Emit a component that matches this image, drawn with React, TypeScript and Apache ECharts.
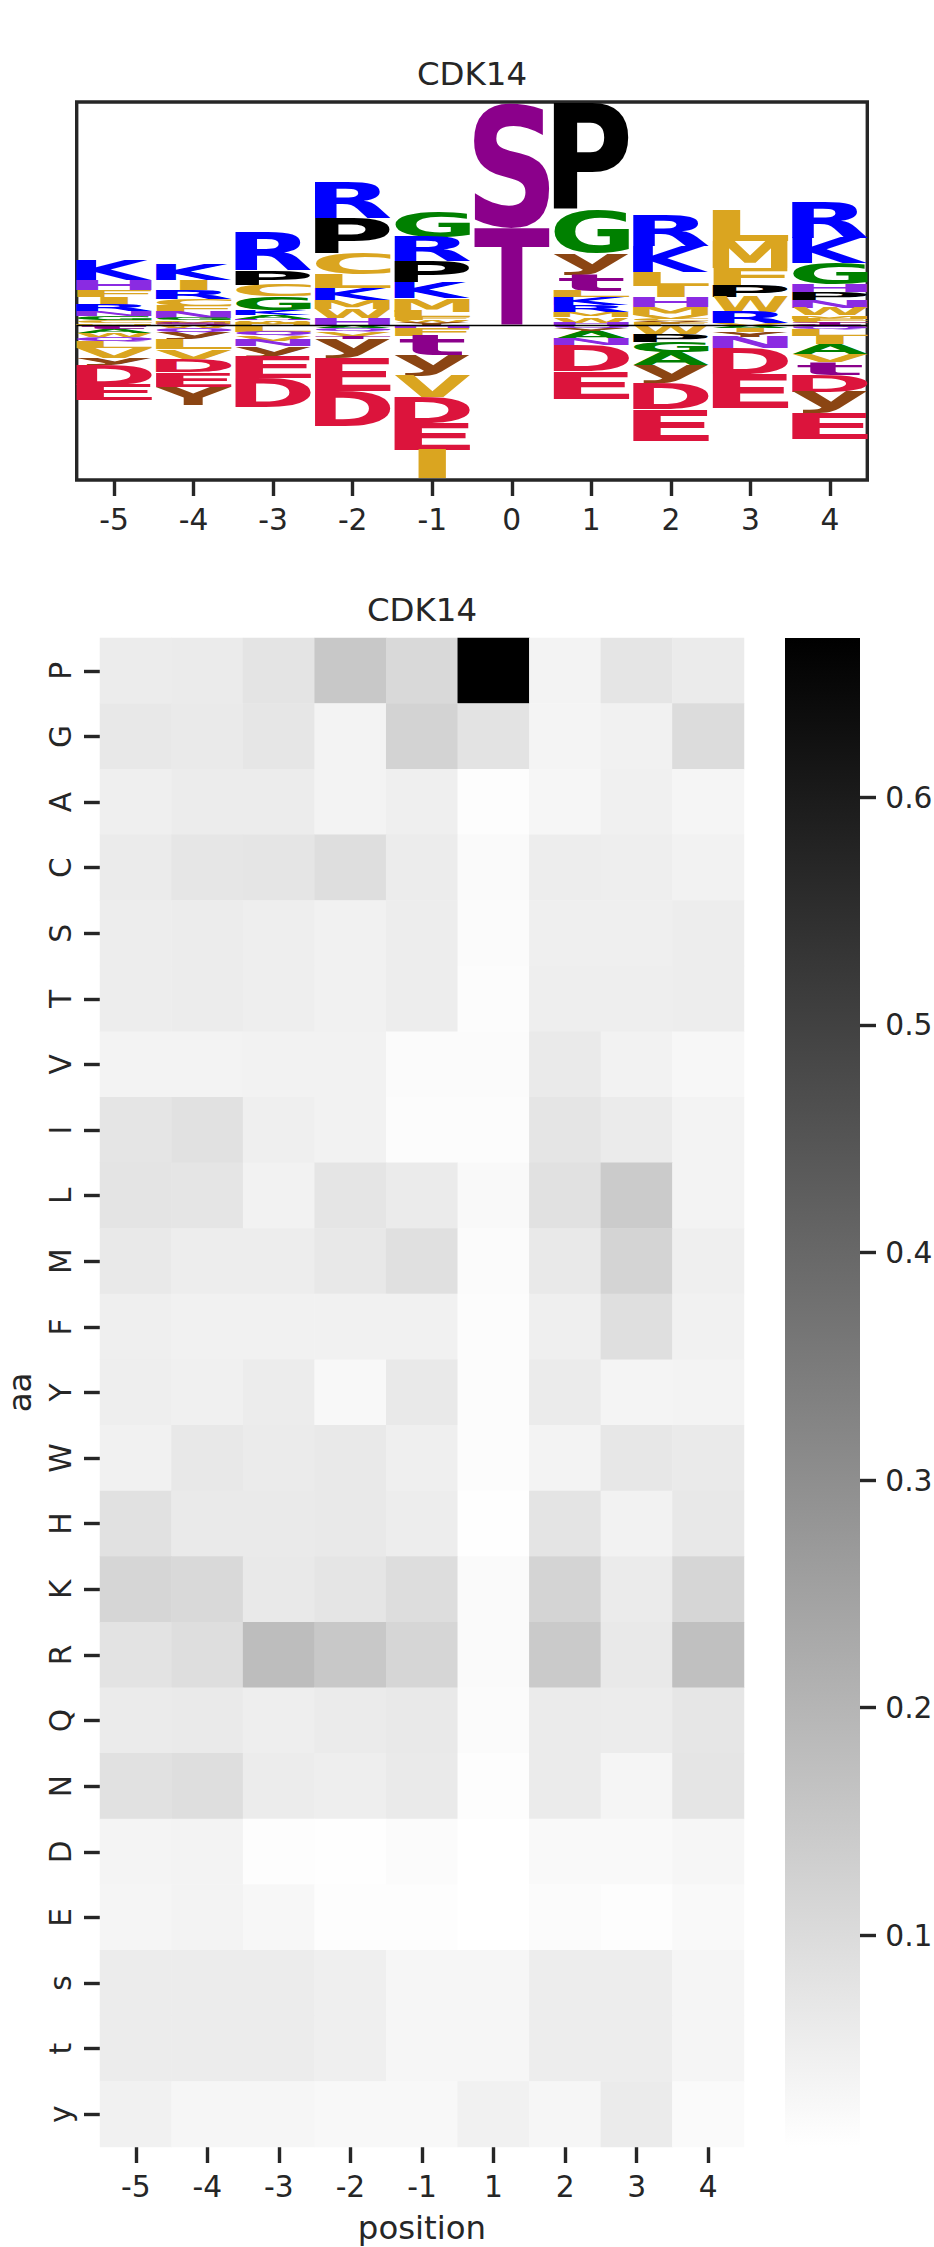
import { useEffect, useRef } from 'react'
import * as echarts from 'echarts'

const TEXT = '#262626'
const FONT = 'DejaVu Sans'
const GLYPH_FONT = 'bold 100px "DejaVu Sans"'
const TICK = 29.7
const LABEL = 32.4

// ---- sequence logo ----
const logoPositions = [-5, -4, -3, -2, -1, 0, 1, 2, 3, 4]
// letters above the zero line, top of the stack first
const logoUp: [string, number][][] = [
  [['K', 0.19], ['H', 0.1], ['F', 0.067], ['I', 0.077], ['R', 0.06], ['N', 0.057], ['G', 0.04], ['C', 0.025], ['M', 0.015], ['T', 0.01]],
  [['K', 0.15], ['I', 0.1], ['R', 0.09], ['C', 0.07], ['F', 0.063], ['N', 0.06], ['G', 0.023], ['M', 0.03], ['S', 0.02]],
  [['R', 0.373], ['P', 0.143], ['C', 0.117], ['G', 0.133], ['K', 0.05], ['A', 0.04], ['H', 0.017], ['W', 0.03], ['M', 0.02]],
  [['R', 0.365], ['P', 0.35], ['C', 0.21], ['L', 0.14], ['K', 0.12], ['M', 0.09], ['W', 0.09], ['H', 0.075]],
  [['G', 0.25], ['R', 0.24], ['P', 0.21], ['K', 0.157], ['M', 0.133], ['L', 0.057], ['F', 0.03], ['W', 0.025], ['Y', 0.028]],
  [['S', 1.24], ['T', 0.98]],
  [['P', 1.074], ['G', 0.433], ['y', 0.21], ['t', 0.157], ['L', 0.066], ['K', 0.077], ['R', 0.067], ['M', 0.055], ['W', 0.053], ['H', 0.03]],
  [['R', 0.31], ['K', 0.26], ['L', 0.14], ['I', 0.11], ['H', 0.1], ['M', 0.08], ['V', 0.04], ['C', 0.027], ['Y', 0.023], ['F', 0.02]],
  [['L', 0.307], ['M', 0.267], ['F', 0.17], ['P', 0.123], ['W', 0.15], ['R', 0.11], ['V', 0.023]],
  [['R', 0.357], ['K', 0.253], ['G', 0.213], ['H', 0.077], ['P', 0.083], ['N', 0.073], ['W', 0.077], ['M', 0.03], ['F', 0.025], ['C', 0.025], ['T', 0.02]],
]
// letters below the zero line, nearest the line first
const logoDown: [string, number][][] = [
  [['t', 0.037], ['A', 0.04], ['W', 0.04], ['Q', 0.043], ['L', 0.067], ['V', 0.1], ['y', 0.073], ['D', 0.193], ['E', 0.15]],
  [['W', 0.027], ['Q', 0.04], ['y', 0.07], ['L', 0.1], ['V', 0.093], ['D', 0.133], ['E', 0.147], ['Y', 0.183]],
  [['L', 0.06], ['Q', 0.043], ['V', 0.047], ['N', 0.06], ['y', 0.1], ['E', 0.217], ['D', 0.29]],
  [['A', 0.03], ['Q', 0.035], ['V', 0.04], ['T', 0.028], ['y', 0.193], ['E', 0.323], ['D', 0.353]],
  [['H', 0.027], ['F', 0.073], ['t', 0.193], ['y', 0.21], ['V', 0.217], ['D', 0.257], ['E', 0.267], ['I', 0.283]],
  [],
  [['Q', 0.033], ['Y', 0.033], ['A', 0.073], ['N', 0.06], ['D', 0.257], ['E', 0.277]],
  [['W', 0.083], ['P', 0.083], ['G', 0.1], ['A', 0.133], ['y', 0.177], ['D', 0.257], ['E', 0.317]],
  [['A', 0.03], ['I', 0.035], ['Y', 0.047], ['N', 0.11], ['D', 0.26], ['E', 0.343]],
  [['S', 0.02], ['Q', 0.023], ['L', 0.06], ['I', 0.08], ['A', 0.107], ['V', 0.077], ['t', 0.127], ['D', 0.167], ['y', 0.217], ['E', 0.257]],
]
const logoXTicks = [-5, -4, -3, -2, -1, 0, 1, 2, 3, 4]
const logoYMin = -1.545
const logoYMax = 2.235
const LETTER_W = 0.95

const letterColor: Record<string, string> = {
  K: '#0000ff', R: '#0000ff',
  H: '#8a2be2', N: '#8a2be2', Q: '#8a2be2',
  S: '#8b008b', T: '#8b008b', s: '#8b008b', t: '#8b008b',
  Y: '#8b4513', y: '#8b4513',
  D: '#dc143c', E: '#dc143c',
  P: '#000000',
  G: '#008000', A: '#008000',
  C: '#daa520', L: '#daa520', M: '#daa520', F: '#daa520', W: '#daa520', I: '#daa520', V: '#daa520',
}

// ---- heatmap ----
const heatCols = ['-5', '-4', '-3', '-2', '-1', '1', '2', '3', '4']
const heatRows = ['P', 'G', 'A', 'C', 'S', 'T', 'V', 'I', 'L', 'M', 'F', 'Y', 'W', 'H', 'K', 'R', 'Q', 'N', 'D', 'E', 's', 't', 'y']
const heatValues = [
  [0.056, 0.059, 0.077, 0.150, 0.106, 0.670, 0.038, 0.075, 0.059],
  [0.067, 0.062, 0.072, 0.038, 0.121, 0.080, 0.036, 0.043, 0.098],
  [0.049, 0.056, 0.056, 0.038, 0.049, 0.012, 0.030, 0.046, 0.033],
  [0.059, 0.072, 0.075, 0.093, 0.056, 0.020, 0.054, 0.051, 0.041],
  [0.054, 0.056, 0.051, 0.043, 0.054, 0.017, 0.049, 0.049, 0.054],
  [0.055, 0.056, 0.052, 0.044, 0.055, 0.016, 0.050, 0.050, 0.055],
  [0.038, 0.038, 0.041, 0.041, 0.017, 0.017, 0.062, 0.041, 0.028],
  [0.075, 0.085, 0.049, 0.041, 0.015, 0.015, 0.075, 0.059, 0.038],
  [0.077, 0.075, 0.041, 0.075, 0.059, 0.023, 0.085, 0.142, 0.038],
  [0.064, 0.054, 0.054, 0.067, 0.088, 0.017, 0.064, 0.119, 0.049],
  [0.049, 0.043, 0.043, 0.043, 0.043, 0.015, 0.049, 0.090, 0.043],
  [0.051, 0.046, 0.056, 0.025, 0.064, 0.015, 0.059, 0.036, 0.038],
  [0.043, 0.067, 0.059, 0.064, 0.049, 0.015, 0.038, 0.069, 0.062],
  [0.085, 0.062, 0.062, 0.064, 0.054, 0.010, 0.077, 0.041, 0.067],
  [0.114, 0.106, 0.064, 0.075, 0.095, 0.020, 0.119, 0.059, 0.114],
  [0.080, 0.093, 0.179, 0.150, 0.114, 0.020, 0.145, 0.064, 0.171],
  [0.059, 0.062, 0.051, 0.059, 0.064, 0.017, 0.059, 0.056, 0.072],
  [0.085, 0.093, 0.056, 0.051, 0.062, 0.012, 0.059, 0.033, 0.075],
  [0.036, 0.038, 0.012, 0.010, 0.017, 0.007, 0.023, 0.023, 0.030],
  [0.033, 0.038, 0.028, 0.012, 0.012, 0.007, 0.017, 0.012, 0.023],
  [0.056, 0.056, 0.056, 0.049, 0.030, 0.030, 0.054, 0.054, 0.033],
  [0.056, 0.056, 0.056, 0.049, 0.030, 0.030, 0.054, 0.054, 0.033],
  [0.043, 0.030, 0.030, 0.025, 0.025, 0.043, 0.030, 0.059, 0.020],
]
const cbarMin = 0.007
const cbarMax = 0.67
const cbarTicks = [0.1, 0.2, 0.3, 0.4, 0.5, 0.6]

type Glyph = { pos: number; lo: number; hi: number; letter: string }
type Metric = { left: number; w: number; top: number; h: number }

// ink boxes of the glyphs, in the frame zrender's svg text uses (dominant-baseline: central)
function measureGlyphs(letters: string[]): Record<string, Metric> {
  const ns = 'http://www.w3.org/2000/svg'
  const svg = document.createElementNS(ns, 'svg')
  svg.setAttribute('style', 'position:absolute;left:0;top:0;visibility:hidden')
  const mk = (baseline: string) => {
    const t = document.createElementNS(ns, 'text')
    t.setAttribute('x', '0')
    t.setAttribute('y', '0')
    t.setAttribute('dominant-baseline', baseline)
    t.setAttribute('style', 'font:' + GLYPH_FONT)
    t.textContent = 'E'
    svg.appendChild(t)
    return t
  }
  const tc = mk('central')
  const ta = mk('alphabetic')
  document.body.appendChild(svg)
  const shift = tc.getBBox().y - ta.getBBox().y
  svg.remove()

  const ctx = document.createElement('canvas').getContext('2d')!
  ctx.font = GLYPH_FONT
  ctx.textAlign = 'left'
  ctx.textBaseline = 'alphabetic'
  const out: Record<string, Metric> = {}
  for (const c of letters) {
    const m = ctx.measureText(c)
    out[c] = {
      left: -m.actualBoundingBoxLeft,
      w: m.actualBoundingBoxLeft + m.actualBoundingBoxRight,
      top: shift - m.actualBoundingBoxAscent,
      h: m.actualBoundingBoxAscent + m.actualBoundingBoxDescent,
    }
  }
  return out
}

export default function App() {
  const ref = useRef<HTMLDivElement>(null)

  useEffect(() => {
    if (!ref.current) return
    document.body.style.margin = '0'
    document.body.style.overflow = 'hidden'

    const glyphs: Glyph[] = []
    logoPositions.forEach((pos, i) => {
      let top = logoUp[i].reduce((s, [, h]) => s + h, 0)
      for (const [letter, h] of logoUp[i]) {
        glyphs.push({ pos, lo: top - h, hi: top, letter })
        top -= h
      }
      let y = 0
      for (const [letter, h] of logoDown[i]) {
        glyphs.push({ pos, lo: y - h, hi: y, letter })
        y -= h
      }
    })
    const metrics = measureGlyphs(Array.from(new Set([...glyphs.map((g) => g.letter), 'E'])))

    const heatData: number[][] = []
    heatRows.forEach((_, r) => heatCols.forEach((_, c) => heatData.push([c, r, heatValues[r][c]])))

    const chart = echarts.init(ref.current, undefined, { renderer: 'svg' })
    const axisText = { fontSize: TICK, color: TEXT, fontFamily: FONT }
    const tickStyle = { color: TEXT, width: 3.4 }

    chart.setOption({
      animation: false,
      backgroundColor: '#ffffff',
      title: [
        { text: 'CDK14', left: 472, top: 58, padding: 0, textAlign: 'center',
          textStyle: { fontSize: LABEL, fontWeight: 'normal', color: TEXT, fontFamily: FONT } },
        { text: 'CDK14', left: 422, top: 594.4, padding: 0, textAlign: 'center',
          textStyle: { fontSize: LABEL, fontWeight: 'normal', color: TEXT, fontFamily: FONT } },
      ],
      grid: [
        { left: 76.7, top: 102, width: 790.6, height: 378, outerBoundsMode: 'none', show: true, borderColor: TEXT, borderWidth: 3.4, backgroundColor: 'transparent' },
        { left: 100, top: 638, width: 644, height: 1509, outerBoundsMode: 'none' },
        { left: 785, top: 638, width: 75, height: 1509, outerBoundsMode: 'none' },
      ],
      xAxis: [
        {
          type: 'value', gridIndex: 0, min: -5.47, max: 4.47, position: 'bottom',
          axisLine: { show: false, onZero: false }, splitLine: { show: false },
          axisTick: { show: true, customValues: logoXTicks, length: 16, lineStyle: tickStyle },
          axisLabel: { customValues: logoXTicks, margin: 24.5, ...axisText },
        },
        {
          type: 'category', gridIndex: 1, data: heatCols,
          axisLine: { show: false, onZero: false }, splitLine: { show: false },
          axisTick: { show: true, alignWithLabel: true, interval: 0, length: 16, lineStyle: tickStyle },
          axisLabel: { interval: 0, margin: 24.5, ...axisText },
          name: 'position', nameLocation: 'middle', nameGap: 64.5,
          nameTextStyle: { fontSize: LABEL, color: TEXT, fontFamily: FONT },
        },
        { type: 'value', gridIndex: 2, min: 0, max: 1, show: false, axisLine: { onZero: false } },
      ],
      yAxis: [
        { type: 'value', gridIndex: 0, min: logoYMin, max: logoYMax, show: false, axisLine: { onZero: false } },
        {
          type: 'category', gridIndex: 1, data: heatRows, inverse: true,
          axisLine: { show: false, onZero: false }, splitLine: { show: false },
          axisTick: { show: true, alignWithLabel: true, interval: 0, length: 16, lineStyle: tickStyle },
          axisLabel: { interval: 0, rotate: 90, margin: 25, ...axisText },
          name: 'aa', nameLocation: 'middle', nameGap: 64.5,
          nameTextStyle: { fontSize: LABEL, color: TEXT, fontFamily: FONT },
        },
        {
          type: 'value', gridIndex: 2, position: 'right', min: cbarMin, max: cbarMax,
          axisLine: { show: false, onZero: false }, splitLine: { show: false },
          axisTick: { show: true, customValues: cbarTicks, length: 16, lineStyle: tickStyle },
          axisLabel: { customValues: cbarTicks, margin: 25.3, formatter: (v: number) => v.toFixed(1), ...axisText },
        },
      ],
      visualMap: {
        type: 'continuous', show: false, seriesIndex: 1, dimension: 2,
        min: cbarMin, max: cbarMax, inRange: { color: ['#ffffff', '#000000'] },
      },
      series: [
        {
          type: 'custom', xAxisIndex: 0, yAxisIndex: 0,
          data: glyphs.map((g) => [g.pos, g.lo, g.hi]),
          renderItem: (params: any, api: any) => {
            const g = glyphs[params.dataIndex]
            const [x0, yTop] = api.coord([g.pos - LETTER_W / 2, g.hi])
            const [x1, yBot] = api.coord([g.pos + LETTER_W / 2, g.lo])
            const h = yBot - yTop
            if (h < 0.05) return null
            const m = metrics[g.letter]
            const boxW = x1 - x0
            const w = Math.min(boxW, (boxW * m.w) / metrics.E.w)
            const left = x0 + (boxW - w) / 2
            const sx = w / m.w
            const sy = h / m.h
            return {
              type: 'text',
              x: left - sx * m.left,
              y: yTop - sy * m.top,
              scaleX: sx,
              scaleY: sy,
              style: { text: g.letter, x: 0, y: 0, font: GLYPH_FONT, fill: letterColor[g.letter], align: 'left', verticalAlign: 'middle' },
            }
          },
          markLine: {
            silent: true, symbol: 'none', label: { show: false },
            lineStyle: { color: '#000000', width: 1.4, type: 'solid' },
            data: [{ yAxis: 0 }],
          },
        },
        {
          type: 'heatmap', xAxisIndex: 1, yAxisIndex: 1, data: heatData,
          itemStyle: { borderWidth: 0 }, emphasis: { disabled: true },
        },
        {
          type: 'custom', xAxisIndex: 2, yAxisIndex: 2, data: [[0, cbarMin]],
          renderItem: (_: any, api: any) => {
            const [x0, y0] = api.coord([0, cbarMax])
            const [x1, y1] = api.coord([1, cbarMin])
            return {
              type: 'rect',
              shape: { x: x0, y: y0, width: x1 - x0, height: y1 - y0 },
              style: {
                fill: new echarts.graphic.LinearGradient(0, 0, 0, 1, [
                  { offset: 0, color: '#000000' }, { offset: 1, color: '#ffffff' }]),
              },
            }
          },
        },
      ],
    })

    return () => chart.dispose()
  }, [])

  return <div ref={ref} style={{ width: 934, height: 2247 }} />
}
